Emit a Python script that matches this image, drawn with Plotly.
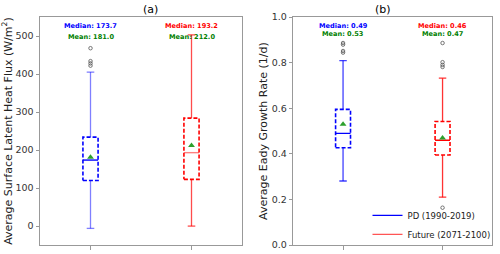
import plotly.graph_objects as go

# ---------------- data ----------------
periods = ["PD (1990-2019)", "Future (2071-2100)"]
positions = [1, 2]

# (a) Average Surface Latent Heat Flux (W/m^2)
lhf_q1 = [120.0, 123.0]
lhf_median = [173.7, 193.2]
lhf_q3 = [234.0, 284.0]
lhf_low = [-6.0, 0.0]
lhf_high = [405.0, 503.0]
lhf_mean = [181.0, 212.0]
lhf_outliers = [[468.0, 434.0, 428.0, 422.0], []]

# (b) Average Eady Growth Rate (1/d)
egr_q1 = [0.427, 0.395]
egr_median = [0.49, 0.46]
egr_q3 = [0.595, 0.542]
egr_low = [0.281, 0.21]
egr_high = [0.809, 0.732]
egr_mean = [0.53, 0.47]
egr_outliers = [[0.886, 0.879, 0.851, 0.844], [0.886, 0.802, 0.790, 0.781, 0.164]]

box_colors = ["#0000ff", "#ff0000"]
whisker_colors_a = ["rgba(0,0,255,0.5)", "rgba(255,0,0,0.7)"]
whisker_colors_b = ["rgba(0,0,255,0.75)", "rgba(255,0,0,0.8)"]
median_colors_a = ["#0000ff", "rgba(255,0,0,0.5)"]
median_colors_b = ["#0000ff", "#ff0000"]

FONT = "DejaVu Sans"
BOX_W = 0.15
CAP_W = 0.075

fig = go.Figure()


def add_boxes(xa, ya, q1, med, q3, lo, hi, mean, outl, wcols, mcols):
    for i, p in enumerate(positions):
        # whiskers + caps
        wx = [p, p, None, p, p, None,
              p - CAP_W / 2, p + CAP_W / 2, None, p - CAP_W / 2, p + CAP_W / 2]
        wy = [q1[i], lo[i], None, q3[i], hi[i], None,
              lo[i], lo[i], None, hi[i], hi[i]]
        fig.add_trace(go.Scatter(x=wx, y=wy, mode="lines", xaxis=xa, yaxis=ya,
                                 line=dict(color=wcols[i], width=1.3),
                                 showlegend=False, hoverinfo="skip"))
        # dashed box
        bx = [p - BOX_W / 2, p + BOX_W / 2, p + BOX_W / 2, p - BOX_W / 2, p - BOX_W / 2]
        by = [q1[i], q1[i], q3[i], q3[i], q1[i]]
        fig.add_trace(go.Scatter(x=bx, y=by, mode="lines", xaxis=xa, yaxis=ya,
                                 line=dict(color=box_colors[i], width=1.6, dash="4px,2px"),
                                 showlegend=False, hoverinfo="skip"))
        # median
        fig.add_trace(go.Scatter(x=[p - BOX_W / 2, p + BOX_W / 2], y=[med[i], med[i]],
                                 mode="lines", xaxis=xa, yaxis=ya,
                                 line=dict(color=mcols[i], width=1.4),
                                 showlegend=False, hoverinfo="skip"))
        # mean
        fig.add_trace(go.Scatter(x=[p], y=[mean[i]], mode="markers", xaxis=xa, yaxis=ya,
                                 marker=dict(symbol="triangle-up", size=6, color="#2ca02c"),
                                 showlegend=False, hoverinfo="skip"))
        # outliers
        if outl[i]:
            fig.add_trace(go.Scatter(x=[p] * len(outl[i]), y=outl[i], mode="markers",
                                     xaxis=xa, yaxis=ya,
                                     marker=dict(symbol="circle-open", size=3.5,
                                                 color="#555555", line=dict(width=0.8)),
                                     showlegend=False, hoverinfo="skip"))


add_boxes("x", "y", lhf_q1, lhf_median, lhf_q3, lhf_low, lhf_high, lhf_mean,
          lhf_outliers, whisker_colors_a, median_colors_a)
add_boxes("x2", "y2", egr_q1, egr_median, egr_q3, egr_low, egr_high, egr_mean,
          egr_outliers, whisker_colors_b, median_colors_b)

# legend entries
legend_colors = ["#0000ff", "#ff5555"]
for name, c in zip(periods, legend_colors):
    fig.add_trace(go.Scatter(x=[None], y=[None], mode="lines", xaxis="x2", yaxis="y2",
                             name=name, line=dict(color=c, width=1.3)))

# annotations: median / mean labels
annos = []
for i, p in enumerate(positions):
    annos.append(dict(x=p, y=0.898, xref="x", yref="paper", yanchor="middle",
                      text=f"<b>Median: {lhf_median[i]:.1f}</b>", showarrow=False,
                      font=dict(family=FONT, size=6.6, color=box_colors[i])))
    annos.append(dict(x=p, y=0.855, xref="x", yref="paper", yanchor="middle",
                      text=f"<b>Mean: {lhf_mean[i]:.1f}</b>", showarrow=False,
                      font=dict(family=FONT, size=6.6, color="green")))
    annos.append(dict(x=p, y=0.899, xref="x2", yref="paper", yanchor="middle",
                      text=f"<b>Median: {egr_median[i]:.2f}</b>", showarrow=False,
                      font=dict(family=FONT, size=6.6, color=box_colors[i])))
    annos.append(dict(x=p, y=0.867, xref="x2", yref="paper", yanchor="middle",
                      text=f"<b>Mean: {egr_mean[i]:.2f}</b>", showarrow=False,
                      font=dict(family=FONT, size=6.6, color="green")))

annos.append(dict(x=(0.08 + 0.484) / 2, y=0.962, xref="paper", yref="paper", yanchor="middle",
                  text="(a)", showarrow=False, font=dict(family=FONT, size=11, color="black")))
annos.append(dict(x=(0.5866 + 0.9846) / 2, y=0.962, xref="paper", yref="paper", yanchor="middle",
                  text="(b)", showarrow=False, font=dict(family=FONT, size=11, color="black")))

axis_common = dict(showline=True, linecolor="#999999", linewidth=1, mirror=True,
                   ticks="outside", ticklen=3.5, tickcolor="#999999", showgrid=False,
                   zeroline=False, automargin=False,
                   tickfont=dict(family=FONT, size=9.5, color="#333333"))

fig.update_layout(
    width=500, height=254,
    margin=dict(l=0, r=0, t=0, b=0, autoexpand=False),
    paper_bgcolor="white", plot_bgcolor="white",
    font=dict(family=FONT, color="#222222"),
    xaxis=dict(domain=[0.08, 0.484], range=[0.5, 2.5], tickvals=positions,
               showticklabels=False, anchor="y", **axis_common),
    yaxis=dict(domain=[0.035, 0.933], range=[-50, 550], tickvals=[0, 100, 200, 300, 400, 500],
               anchor="x",
               title=dict(text="Average Surface Latent Heat Flux (W/m<sup>2</sup>)",
                          font=dict(family=FONT, size=11, color="#222222"), standoff=1),
               **axis_common),
    xaxis2=dict(domain=[0.5866, 0.9846], range=[0.5, 2.5], tickvals=positions,
                showticklabels=False, anchor="y2", **axis_common),
    yaxis2=dict(domain=[0.035, 0.933], range=[0, 1.0],
                tickvals=[0.0, 0.2, 0.4, 0.6, 0.8, 1.0], tickformat=".1f", anchor="x2",
                title=dict(text="Average Eady Growth Rate (1/d)",
                           font=dict(family=FONT, size=11, color="#222222"), standoff=1),
                **axis_common),
    legend=dict(x=0.735, y=0.02, xanchor="left", yanchor="bottom",
                bgcolor="rgba(255,255,255,0)", itemwidth=30,
                font=dict(family=FONT, size=8.5, color="#222222"), tracegroupgap=0),
    annotations=annos,
    showlegend=True,
)

fig.write_html("out.html", config={"displayModeBar": False},
               post_script="document.body.style.margin='0';")
